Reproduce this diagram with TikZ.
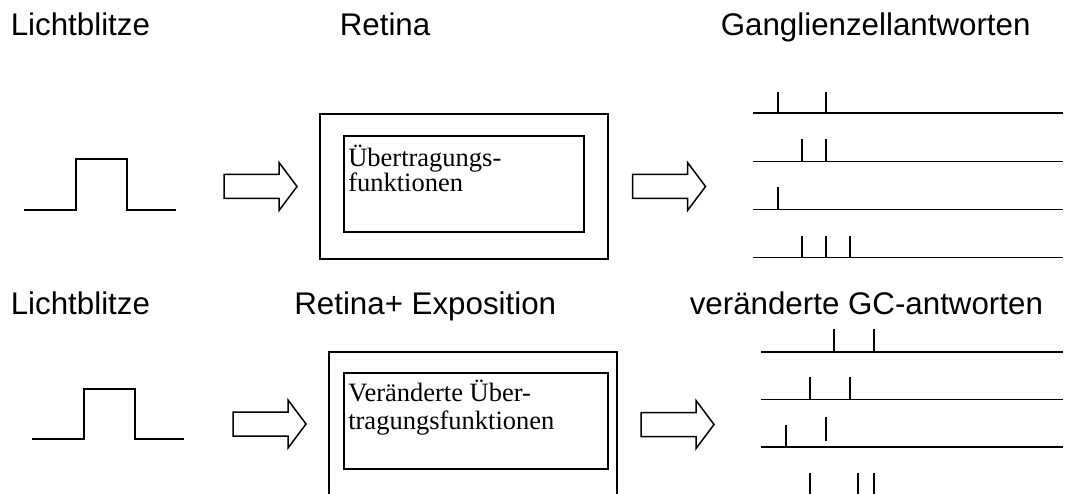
\documentclass[tikz,border=0pt]{standalone}
\usepackage{fontspec}
\setmainfont{Liberation Serif}
\newfontfamily\headfont{Liberation Sans}
\usetikzlibrary{arrows.meta}

% hollow block arrow, (#1) is the middle of its left end
\newcommand{\blockarrow}[1]{\draw[flash] (#1) ++(0,-12) -- ++(55,0) -- ++(0,-12) -- ++(18,24) -- ++(-18,24) -- ++(0,-12) -- ++(-55,0) -- cycle;}

\begin{document}
\begin{tikzpicture}[x=1pt,y=-1pt,line width=1.6pt,
  every node/.style={inner sep=0pt,anchor=base west},
  head/.style={font=\headfont\fontsize{31.3}{36}\selectfont},
  boxtext/.style={font=\fontsize{26.5}{30}\selectfont},
  flash/.style={line width=1.5pt,line join=miter}]
\useasboundingbox (0,0) rectangle (1065,494);
\clip (0,0) rectangle (1065,494);
% headings
\node[head] (h1) at (10,35.7) {Lichtblitze};
\node[head] (h2) at (339,35.7) {Retina};
\node[head] (h3) at (720,35.7) {Ganglienzellantworten};
\node[head] (h4) at (10,314.3) {Lichtblitze};
\node[head] (h5) at (293.5,314.3) {Retina+ Exposition};
\node[head] (h6) at (689,314.3) {veränderte GC-antworten};
% light pulses
\draw (24,210)--(76,210)--(76,159)--(127,159)--(127,210)--(176,210);
\draw (32,439)--(84,439)--(84,389)--(135,389)--(135,439)--(184,439);
% retina boxes
\draw (320,114) rectangle (608,259);
\draw (344,136) rectangle (584,232);
\node[boxtext] (t1) at (347.5,166.7) {Übertragungs-};
\node[boxtext] (t2) at (347.5,191.7) {funktionen};
\draw (329,352) rectangle (617,520);
\draw (344,373) rectangle (608,469);
\node[boxtext] (t3) at (347.5,401) {Veränderte Über-};
\node[boxtext] (t4) at (347.5,429.3) {tragungsfunktionen};
% arrows
\coordinate (a1) at (224,186.5);
\coordinate (a2) at (632.5,186.5);
\coordinate (a3) at (233,424);
\coordinate (a4) at (641,424.5);
\blockarrow{a1}
\blockarrow{a2}
\blockarrow{a3}
\blockarrow{a4}
% ganglion cell responses
\draw (752.7,113.3)--(1063,113.3);
\foreach \s in {777.7,826} \draw (\s,113.3)--(\s,91.7);
\draw (752.7,161.7)--(1063,161.7);
\foreach \s in {801.7,826} \draw (\s,161.7)--(\s,139.5);
\draw (752.7,209.7)--(1063,209.7);
\foreach \s in {777.7} \draw (\s,209.7)--(\s,187.5);
\draw (752.7,257.7)--(1063,257.7);
\foreach \s in {801.7,826,849.7} \draw (\s,257.7)--(\s,235.7);
% changed responses
\draw (761,351.7)--(1063,351.7);
\foreach \s in {834,874} \draw (\s,351.7)--(\s,329);
\draw (761,399.3)--(1063,399.3);
\foreach \s in {810,850} \draw (\s,399.3)--(\s,377);
\draw (761,447)--(1063,447);
\draw (785.7,447)--(785.7,425.3);
\draw (826,440.7)--(826,417);
\foreach \s in {809.7,857.7,874} \draw (\s,473)--(\s,496);
\end{tikzpicture}
\end{document}
